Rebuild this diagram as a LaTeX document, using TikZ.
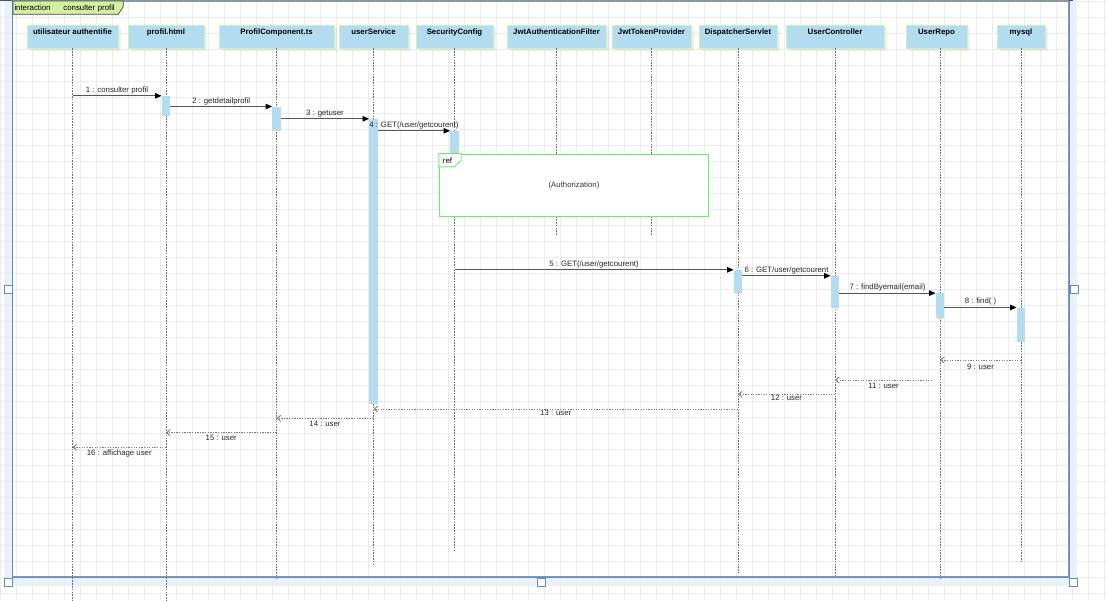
\documentclass[tikz,border=0pt]{standalone}
\usepackage{fontspec}
\setmainfont{Liberation Sans}
\usetikzlibrary{arrows.meta,shadows}

\definecolor{gridc}{HTML}{EBEBEB}
\definecolor{lifefill}{HTML}{B4DCF0}
\definecolor{lifeedge}{HTML}{CCF2B4}
\definecolor{tabfill}{HTML}{D2F0A0}
\definecolor{refgreen}{HTML}{66EE66}
\definecolor{selband}{HTML}{E4EEFB}
\definecolor{selblue}{HTML}{5A8CDC}
\definecolor{framegray}{HTML}{8C96A0}
\definecolor{topline}{HTML}{4A5560}
\definecolor{msggray}{HTML}{555555}
\definecolor{retgray}{HTML}{7A7A7A}
\definecolor{lifegray}{HTML}{6E6E6E}

\begin{document}
\begin{tikzpicture}[x=1pt,y=-1pt,
  head/.style={draw=lifeedge, line width=0.8pt, fill=lifefill, inner xsep=0pt,
    inner ysep=4.2pt, text height=5.6pt, text depth=9pt,
    font=\fontsize{7.8}{9}\selectfont\bfseries,
    drop shadow={shadow xshift=2.5pt, shadow yshift=-2.5pt, fill=black, opacity=0.06}},
  bar/.style={fill=lifefill, draw=none, inner sep=0pt, minimum width=8.5pt},
  life/.style={draw=lifegray, line width=0.9pt, dash pattern=on 1.5pt off 1.3pt},
  msg/.style={draw=msggray, line width=1pt, -{Triangle[length=6.5pt,width=5.5pt,color=black]}},
  ret/.style={draw=retgray, line width=0.9pt, dash pattern=on 1.3pt off 1.3pt,
    -{Straight Barb[length=3.5pt,width=6pt]}},
  lab/.style={font=\fontsize{7.8}{9}\selectfont, text=black!85, inner sep=0pt, anchor=base},
  handle/.style={draw=selblue, line width=1pt, fill=white, minimum size=8pt, inner sep=0pt},
]
\useasboundingbox (0,0) rectangle (1107,600);
\fill[white] (0,0) rectangle (1107,600);

% background grid
\foreach \i in {0,...,69} \draw[gridc, line width=1pt] (16*\i,0) -- (16*\i,600);
\foreach \j in {0,...,37} \draw[gridc, line width=1pt] (0,16*\j+1) -- (1107,16*\j+1);

% selection band around the interaction frame
\fill[selband, opacity=0.8] (4,0) rectangle (12,586);
\fill[selband, opacity=0.8] (1070,0) rectangle (1077,586);
\fill[selband, opacity=0.8] (12,577.5) rectangle (1070,586);
\draw[topline, line width=1.5pt] (0,0.6) -- (1073,0.6);

% interaction frame
\draw[framegray, line width=1.2pt] (12.5,1) rectangle (1068.6,576.4);
\draw[selblue, line width=1pt] (12.3,1) -- (12.3,577.6) -- (1069.9,577.6) -- (1069.9,1);

% frame tab
\draw[fill=tabfill, draw=black!70, line width=0.7pt]
  (13,1) -- (123.3,1) -- (123.3,6.7) -- (118.3,14.3) -- (13,14.3) -- cycle;
\node[lab, anchor=base west, text=black] (tabtxt) at (14.3,10.5)
  {interaction\hspace{13pt}consulter\hspace{2.7pt}profil};

% lifeline heads
\node[head, minimum width=91pt]  (u1)  at (72.5,36.5)  {utilisateur authentifie};
\node[head, minimum width=76pt]  (u2)  at (166,36.5)   {profil.html};
\node[head, minimum width=115pt] (u3)  at (276.5,36.5) {ProfilComponent.ts};
\node[head, minimum width=69pt]  (u4)  at (373.5,36.5) {userService};
\node[head, minimum width=77pt]  (u5)  at (454.5,36.5) {SecurityConfig};
\node[head, minimum width=99pt]  (u6)  at (556.5,36.5) {JwtAuthenticationFilter};
\node[head, minimum width=79pt]  (u7)  at (651.5,36.5) {JwtTokenProvider};
\node[head, minimum width=78pt]  (u8)  at (738,36.5)   {DispatcherServlet};
\node[head, minimum width=98pt]  (u9)  at (835,36.5)   {UserController};
\node[head, minimum width=61pt]  (u10) at (936.5,36.5) {UserRepo};
\node[head, minimum width=48pt]  (u11) at (1021,36.5)  {mysql};

% lifelines
\draw[life] (u1.south)  -- ++(0,552);
\draw[life] (u2.south)  -- ++(0,552);
\draw[life] (u3.south)  -- ++(0,531);
\draw[life] (u4.south)  -- ++(0,517);
\draw[life] (u5.south)  -- ++(0,503);
\draw[life] (u6.south)  -- ++(0,187);
\draw[life] (u7.south)  -- ++(0,187);
\draw[life] (u8.south)  -- ++(0,524);
\draw[life] (u9.south)  -- ++(0,529);
\draw[life] ([xshift=3.5pt]u10.south) -- ++(0,531);
\draw[life] (u11.south) -- ++(0,514);

% activation bars
\node[bar, minimum height=20pt]   (b2)  at (166,106)     {};
\node[bar, minimum height=24pt]   (b3)  at (276.5,118.7) {};
\node[bar, minimum height=285pt]  (b4)  at (373.5,261.5) {};
\node[bar, minimum height=29pt]   (b5)  at (454.5,145.5) {};
\node[bar, minimum height=23pt]   (b8)  at (738,281.5)   {};
\node[bar, minimum height=32pt]   (b9)  at (835,292)     {};
\node[bar, minimum height=24.4pt] (b10) at (940,305.5)   {};
\node[bar, minimum height=34pt]   (b11) at (1021,324.7)  {};

% interaction use
\node[draw=refgreen, fill=white, line width=1pt, minimum width=269.4pt, minimum height=62pt,
  inner sep=0pt, font=\fontsize{7.8}{9}\selectfont, text=black!80] (ref) at (574,185) {(Authorization)};
\draw[draw=refgreen, fill=white, line width=0.9pt] (ref.north west) -- ++(22.4,0) -- ++(0,6.7)
  -- ++(-6.7,6.6) -- ++(-15.7,0) -- cycle;
\node[lab, anchor=base west, text=black] (reftxt) at (442.7,163.4) {ref};

% synchronous calls
\draw[msg] (u1 |- b2.north) -- node[lab, yshift=3.4pt] {1 : consulter profil} (b2.north west);
\draw[msg] (b2.east |- b3.north) -- node[lab, yshift=3.4pt] {2 : getdetailprofil} (b3.north west);
\draw[msg] (b3.east |- b4.north) -- node[lab, yshift=3.4pt] {3 : getuser} (b4.north west);
\draw[msg] (b4.east |- b5.north) -- node[lab, yshift=3.4pt] {4 : GET(/user/getcourent)} (b5.north west);
\draw[msg] (u5 |- b8.north) -- node[lab, yshift=3.2pt] {5 : GET(/user/getcourent)} (b8.north west);
\draw[msg] (b8.east |- b9.north) -- node[lab, yshift=3.4pt] {6 : GET/user/getcourent} (b9.north west);
\draw[msg] (b9.east |- b10.north) -- node[lab, yshift=3.8pt] {7 : findByemail(email)} (b10.north west);
\draw[msg] (b10.east |- b11.north) -- node[lab, yshift=3.8pt] {8 : find( )} (b11.north west);

% reply levels
\coordinate (y9)  at (0,360);
\coordinate (y11) at (0,380);
\coordinate (y12) at (0,394.3);
\coordinate (y13) at (0,409);
\coordinate (y14) at (0,418.3);
\coordinate (y15) at (0,432.7);
\coordinate (y16) at (0,447.3);
\coordinate (r11s) at (932,380);

% replies
\draw[ret] (u11 |- y9) -- node[lab, yshift=-9.3pt] {9 : user} (b10 |- y9);
\draw[ret] (r11s) -- node[lab, yshift=-8.3pt] {11 : user} (u9 |- y11);
\draw[ret] (u9 |- y12) -- node[lab, yshift=-5.8pt] {12 : user} (u8 |- y12);
\draw[ret] (u8 |- y13) -- node[lab, yshift=-6pt] {13 : user} (u4 |- y13);
\draw[ret] (u4 |- y14) -- node[lab, yshift=-8.4pt] {14 : user} (u3 |- y14);
\draw[ret] (u3 |- y15) -- node[lab, yshift=-8pt] {15 : user} (u2 |- y15);
\draw[ret] (u2 |- y16) -- node[lab, yshift=-8.4pt] {16 : affichage user} (u1 |- y16);

% selection handles
\node[handle] (h1) at (8,289) {};
\node[handle] (h2) at (1074,289) {};
\node[handle] (h3) at (8.5,582) {};
\node[handle] (h4) at (541,582) {};
\node[handle] (h5) at (1073.5,582) {};
\end{tikzpicture}
\end{document}
